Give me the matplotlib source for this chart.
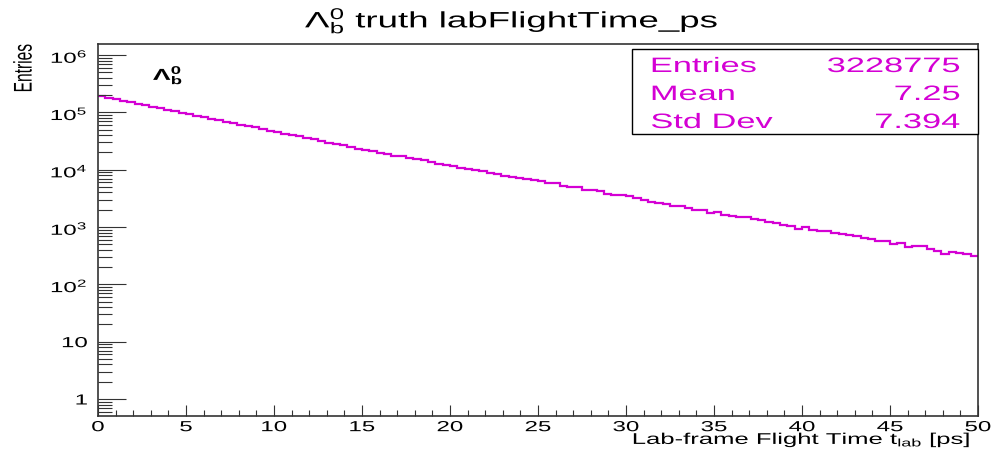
import numpy as np
import matplotlib
matplotlib.use("Agg")
import matplotlib.pyplot as plt
from matplotlib.patheffects import AbstractPathEffect
from matplotlib.transforms import Affine2D
from matplotlib.patches import Rectangle
from matplotlib.ticker import FixedLocator, LogLocator, MultipleLocator, NullFormatter, FixedFormatter

plt.rcParams["font.family"] = ["Liberation Sans", "DejaVu Sans"]
plt.rcParams["mathtext.fontset"] = "custom"
plt.rcParams["mathtext.rm"] = "Liberation Sans"
plt.rcParams["mathtext.it"] = "Liberation Sans:italic"
plt.rcParams["mathtext.bf"] = "Liberation Sans:bold"
plt.rcParams["mathtext.default"] = "regular"

# ---- histogram contents: 120 bins over 0-50 ps ----
t_min, t_max, n_bins = 0.0, 50.0, 120
counts = [
    192700, 181400, 170800, 160800, 151400, 142600, 134200, 126400, 119000, 112000,
    105500, 99300, 93500, 88000, 82900, 78000, 73500, 69200, 65100, 61300,
    57800, 54400, 51200, 48200, 45400, 42700, 40200, 37900, 35700, 33600,
    31500, 29000, 27700, 26500, 24900, 23300, 22000, 21100, 19800, 18700,
    17400, 17100, 16200, 15200, 14600, 13600, 12800, 12100, 11600, 10800,
    10150, 10000, 9380, 8850, 8400, 7780, 7450, 7150, 6930, 6540,
    6270, 5800, 5750, 5250, 4940, 4890, 4480, 4450, 4190, 3830,
    3580, 3560, 3430, 3200, 2990, 2770, 2590, 2490, 2360, 2300,
    2170, 2010, 1990, 1775, 1850, 1640, 1540, 1515, 1500, 1380,
    1320, 1210, 1165, 1100, 1055, 933, 988, 897, 853, 845,
    778, 770, 725, 696, 635, 612, 578, 572, 505, 519,
    453, 461, 457, 408, 381, 338, 362, 352, 341, 308,
]

# ---- statistics box ----
stat_names = ["Entries", "Mean", "Std Dev"]
stat_values = ["3228775", "7.25", "7.394"]

# ---- axis ticks ----
x_ticks = [0, 5, 10, 15, 20, 25, 30, 35, 40, 45, 50]
y_ticks = [1, 10, 1e2, 1e3, 1e4, 1e5, 1e6]
y_tick_labels = ["1", "10", "$10^{2}$", "$10^{3}$", "$10^{4}$", "$10^{5}$", "$10^{6}$"]

MAGENTA = "#d400d4"
FRAME = "#333333"
SX = 1.65  # wide ROOT-style lettering


class Stretch(AbstractPathEffect):
    """Scale glyph outlines about an anchor so the lettering runs wide."""

    def __init__(self, sx=1.0, sy=1.0, anchor="left"):
        super().__init__()
        self.sx, self.sy, self.anchor = sx, sy, anchor

    def draw_path(self, renderer, gc, tpath, affine, rgbFace=None):
        ext = tpath.get_extents()
        if self.anchor == "left":
            x0 = ext.x0
        elif self.anchor == "right":
            x0 = ext.x1
        else:
            x0 = 0.5 * (ext.x0 + ext.x1)
        y0 = 0.5 * (ext.y0 + ext.y1)
        pre = Affine2D().translate(-x0, -y0).scale(self.sx, self.sy).translate(x0, y0)
        renderer.draw_path(gc, tpath, pre + affine, rgbFace)


W, H = 995, 454
fig = plt.figure(figsize=(W / 100, H / 100), dpi=100)
fig.patch.set_facecolor("white")

ax_left, ax_right, ax_top, ax_bottom = 98, 978, 44, 416
ax = fig.add_axes([ax_left / W, 1 - ax_bottom / H, (ax_right - ax_left) / W, (ax_bottom - ax_top) / H])

edges = np.linspace(t_min, t_max, n_bins + 1)
ax.stairs(counts, edges, color=MAGENTA, linewidth=1.6, baseline=None)

ax.set_xlim(t_min, t_max)
ax.set_yscale("log")
ax.set_ylim(0.505, 1.556e6)

ax.xaxis.set_major_locator(FixedLocator(x_ticks))
ax.xaxis.set_minor_locator(MultipleLocator(1))
ax.yaxis.set_major_locator(FixedLocator(y_ticks))
ax.yaxis.set_major_formatter(FixedFormatter(y_tick_labels))
ax.yaxis.set_minor_locator(LogLocator(base=10, subs=np.arange(2, 10), numticks=20))
ax.yaxis.set_minor_formatter(NullFormatter())

ax.tick_params(axis="x", which="major", direction="in", length=8, width=0.8,
               color=FRAME, labelsize=10.5, pad=3.0, top=False)
ax.tick_params(axis="x", which="minor", direction="in", length=4.3, width=0.8,
               color=FRAME, top=False)
ax.tick_params(axis="y", which="major", direction="in", length=20, width=0.8,
               color=FRAME, labelsize=10.5, pad=7.5, right=False)
ax.tick_params(axis="y", which="minor", direction="in", length=10, width=0.8,
               color=FRAME, right=False)
for sp in ax.spines.values():
    sp.set_color(FRAME)
    sp.set_linewidth(1.2)

for lab in ax.get_xticklabels():
    lab.set_path_effects([Stretch(sx=SX, anchor="center")])
for lab in ax.get_yticklabels():
    lab.set_path_effects([Stretch(sx=SX, anchor="right")])

# title
fig.text(512 / W, 1 - 27.5 / H, r"$\Lambda_{b}^{0}$ truth labFlightTime_ps",
         ha="center", va="baseline", fontsize=16,
         path_effects=[Stretch(sx=SX, anchor="center")])

# particle label inside the frame
fig.text(153 / W, 1 - 80 / H, r"$\mathbf{\Lambda_{b}^{0}}$", ha="left", va="baseline",
         fontsize=11.5, path_effects=[Stretch(sx=SX, anchor="left")])

# axis titles
fig.text(970 / W, 1 - 444 / H, r"Lab-frame Flight Time $t_{lab}$ [ps]",
         ha="right", va="baseline", fontsize=11.2,
         path_effects=[Stretch(sx=SX, anchor="right")])
fig.text(23.5 / W, 1 - 44 / H, "Entries", rotation=90, ha="center", va="top",
         fontsize=11.2, path_effects=[Stretch(sy=SX, anchor="center")])

# statistics box
bx0, by0, bx1, by1 = 632, 49, 978, 134
fig.add_artist(Rectangle((bx0 / W, 1 - by1 / H), (bx1 - bx0) / W, (by1 - by0) / H,
                         transform=fig.transFigure, facecolor="white",
                         edgecolor="black", linewidth=1.0, zorder=2))
for i, (name, val) in enumerate(zip(stat_names, stat_values)):
    yb = 1 - (72 + 28 * i) / H
    fig.text(651 / W, yb, name, ha="left", va="baseline", fontsize=15, color=MAGENTA,
             zorder=3, path_effects=[Stretch(sx=SX, anchor="left")])
    fig.text(960 / W, yb, val, ha="right", va="baseline", fontsize=15, color=MAGENTA,
             zorder=3, path_effects=[Stretch(sx=SX, anchor="right")])

fig.savefig("out.png", dpi=100, facecolor="white")
